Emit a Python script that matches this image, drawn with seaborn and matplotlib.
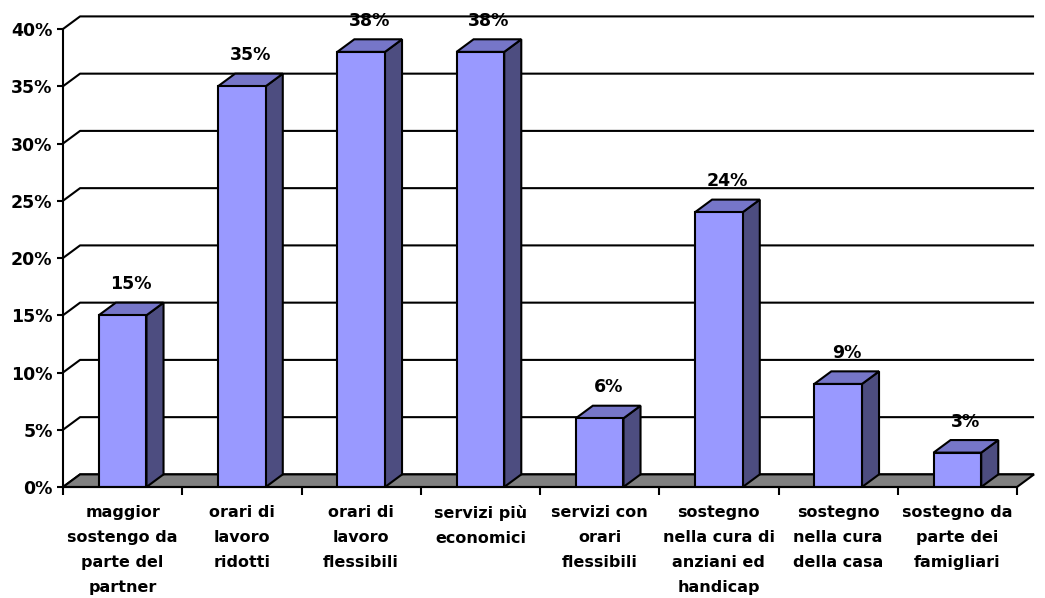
import numpy as np
import pandas as pd
import matplotlib
matplotlib.use('Agg')
import matplotlib.pyplot as plt
from matplotlib.patches import Polygon
import seaborn as sns

# data
categories = ["maggior\nsostengo da\nparte del\npartner",
              "orari di\nlavoro\nridotti",
              "orari di\nlavoro\nflessibili",
              "servizi più\neconomici",
              "servizi con\norari\nflessibili",
              "sostegno\nnella cura di\nanziani ed\nhandicap",
              "sostegno\nnella cura\ndella casa",
              "sostegno da\nparte dei\nfamigliari"]
values = [15, 35, 38, 38, 6, 24, 9, 3]
y_ticks = [0, 5, 10, 15, 20, 25, 30, 35, 40]

# 3d look: depth offset in data units
depth_x = 0.143
depth_y = 1.1
bar_w = 0.40
front_col = "#9999FF"
top_col = "#7676C8"
side_col = "#4D4D80"
floor_col = "#808080"
lw = 1.5

sns.set_style("white")
plt.rcParams['font.family'] = ['DejaVu Sans']
plt.rcParams['font.weight'] = 'bold'
for k in ['text.color', 'xtick.color', 'ytick.color', 'axes.labelcolor', 'axes.edgecolor']:
    plt.rcParams[k] = 'black'

df = pd.DataFrame({"cat": categories, "val": values})

fig = plt.figure(figsize=(10.45, 5.98), dpi=100)
px_cat = 119.25
px_pct = 11.45
n = len(categories)
ax_w = px_cat * (n + depth_x)
ax_h = px_pct * (max(y_ticks) + depth_y)
ax = fig.add_axes([63 / 1045, (598 - 487) / 598, ax_w / 1045, ax_h / 598])

sns.barplot(data=df, x="cat", y="val", color=front_col, saturation=1,
            width=bar_w, edgecolor="black", linewidth=lw, ax=ax, zorder=4)

# back wall grid lines with slanted left wall segment
for v in y_ticks:
    ax.plot([-0.5, -0.5 + depth_x, n - 0.5 + depth_x],
            [v, v + depth_y, v + depth_y], color="black", lw=lw, zorder=1,
            solid_capstyle='butt', clip_on=False)

# floor
ax.add_patch(Polygon([(-0.5, 0), (n - 0.5, 0), (n - 0.5 + depth_x, depth_y),
                      (-0.5 + depth_x, depth_y)], closed=True,
                     facecolor=floor_col, edgecolor="black", lw=lw, zorder=2,
                     clip_on=False))

# top and side faces of the bars, plus value labels
for i, v in enumerate(values):
    xl = i - bar_w / 2
    xr = i + bar_w / 2
    ax.add_patch(Polygon([(xr, 0), (xr + depth_x, depth_y),
                          (xr + depth_x, v + depth_y), (xr, v)], closed=True,
                         facecolor=side_col, edgecolor="black", lw=lw, zorder=3,
                         joinstyle='miter'))
    ax.add_patch(Polygon([(xl, v), (xr, v), (xr + depth_x, v + depth_y),
                          (xl + depth_x, v + depth_y)], closed=True,
                         facecolor=top_col, edgecolor="black", lw=lw, zorder=3,
                         joinstyle='miter'))
    ax.text(i + depth_x / 2, v + 2.7, f"{v}%", ha="center", va="center",
            fontsize=12.5, fontweight="bold", zorder=6, clip_on=False)

ax.set_xlim(-0.5, n - 0.5 + depth_x)
ax.set_ylim(0, max(y_ticks) + depth_y)
ax.set_xlabel("")
ax.set_ylabel("")

ax.set_yticks(y_ticks)
ax.set_yticklabels([f"{t}%" for t in y_ticks], fontsize=12.5, fontweight="bold")
ax.tick_params(axis="y", length=4.5, width=lw, pad=3, direction="out", left=True)

ax.set_xticks(range(n))
ax.set_xticklabels(categories, fontsize=11.5, fontweight="bold", linespacing=1.82)
ax.set_xticks(np.arange(-0.5, n, 1), minor=True)
ax.tick_params(axis="x", which="major", length=0, pad=13)
ax.tick_params(axis="x", which="minor", length=6, width=lw, direction="out", bottom=True)

for s in ["top", "right"]:
    ax.spines[s].set_visible(False)
ax.spines["left"].set_bounds(0, max(y_ticks))
ax.spines["left"].set_linewidth(lw)
ax.spines["left"].set_zorder(5)
ax.spines["bottom"].set_bounds(-0.5, n - 0.5)
ax.spines["bottom"].set_linewidth(lw)
ax.spines["bottom"].set_zorder(5)
ax.patch.set_alpha(0)

fig.savefig("out.png", dpi=100)
